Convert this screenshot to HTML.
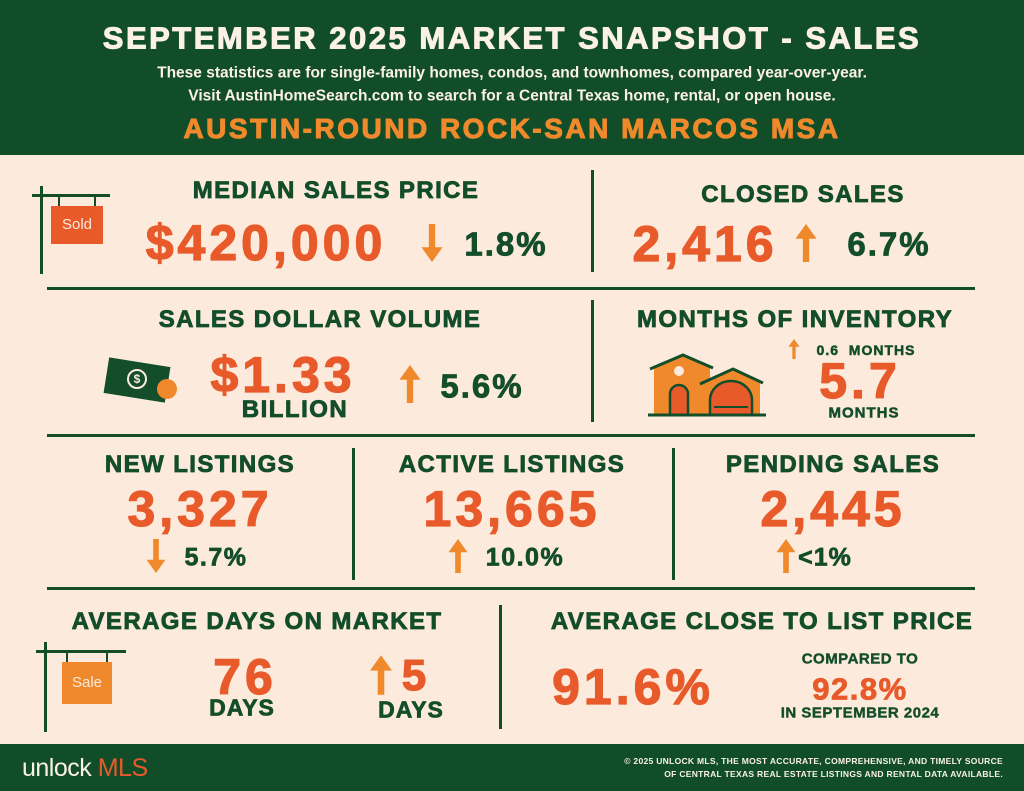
<!DOCTYPE html>
<html><head><meta charset="utf-8"><style>
*{margin:0;padding:0;box-sizing:border-box}
body{width:1024px;height:791px;background:#fcebdd;position:relative;overflow:hidden;font-family:"Liberation Sans",Arial,sans-serif;font-weight:bold}
.c{position:absolute;transform:translate(-50%,-50%);white-space:nowrap;line-height:1}
.g{color:#134d2a}.o{color:#e95a2b}.a{color:#f0892c}.w{color:#fbf1e6}
.h{font-size:24px;letter-spacing:1.4px;-webkit-text-stroke:0.8px currentColor}
.n{font-size:50px;letter-spacing:4px;-webkit-text-stroke:1.2px currentColor}
.p{font-size:28px;letter-spacing:2px;-webkit-text-stroke:0.8px currentColor}
.hl{position:absolute;height:3px;background:#134d2a}
.vl{position:absolute;width:3px;background:#134d2a}
.ar{position:absolute;transform:translate(-50%,-50%)}
</style></head><body>
<svg width="0" height="0" style="position:absolute"><defs>
<symbol id="up" viewBox="0 0 20 36"><polygon points="10,0 20,14 13,14 13,36 7,36 7,14 0,14" fill="#f0892c"/></symbol>
<symbol id="dn" viewBox="0 0 20 36"><polygon points="10,36 20,22 13,22 13,0 7,0 7,22 0,22" fill="#f0892c"/></symbol>
</defs></svg>
<div style="position:absolute;left:0;top:0;width:1024px;height:155px;background:#124d29"></div>
<div class="c w" style="left:512px;top:38px;font-size:31px;letter-spacing:2.5px;-webkit-text-stroke:1px #fbf1e6">SEPTEMBER 2025 MARKET SNAPSHOT - SALES</div>
<div class="c w" style="left:512px;top:73px;font-size:15.5px">These statistics are for single-family homes, condos, and townhomes, compared year-over-year.</div>
<div class="c w" style="left:512px;top:96px;font-size:15.5px">Visit AustinHomeSearch.com to search for a Central Texas home, rental, or open house.</div>
<div class="c a" style="left:512px;top:129px;font-size:28px;letter-spacing:2.5px;-webkit-text-stroke:1px #f0892c">AUSTIN-ROUND ROCK-SAN MARCOS MSA</div>

<!-- row 1 -->
<div class="vl" style="left:40px;top:186px;height:88px"></div>
<div class="hl" style="left:32px;top:194px;width:78px"></div>
<div style="position:absolute;left:58px;top:195px;width:2px;height:12px;background:#134d2a"></div>
<div style="position:absolute;left:94px;top:195px;width:2px;height:12px;background:#134d2a"></div>
<div style="position:absolute;left:51px;top:206px;width:52px;height:38px;background:#e95a2b;color:#fbeadc;font-size:15px;font-weight:normal;text-align:center;line-height:38px">Sold</div>
<div class="c g h" style="left:336px;top:191px">MEDIAN SALES PRICE</div>
<div class="c o n" style="left:266px;top:243px">$420,000</div>
<svg class="ar" style="left:432px;top:243px" width="22" height="38"><use href="#dn"/></svg>
<div class="c g p" style="left:506px;top:244px;font-size:33px">1.8%</div>
<div class="vl" style="left:591px;top:170px;height:102px"></div>
<div class="c g h" style="left:803px;top:195px">CLOSED SALES</div>
<div class="c o n" style="left:705px;top:244px">2,416</div>
<svg class="ar" style="left:806px;top:243px" width="22" height="38"><use href="#up"/></svg>
<div class="c g p" style="left:889px;top:244px;font-size:33px">6.7%</div>
<div class="hl" style="left:47px;top:287px;width:928px"></div>

<!-- row 2 -->
<div class="c g h" style="left:320px;top:320px">SALES DOLLAR VOLUME</div>
<div style="position:absolute;left:106px;top:362px;width:62px;height:36px;background:#134d2a;transform:rotate(9deg)"></div>
<div style="position:absolute;left:127px;top:369px;width:20px;height:20px;border:2px solid #fcebdd;border-radius:50%;color:#fcebdd;font-size:12px;text-align:center;line-height:16px">$</div>
<div style="position:absolute;left:157px;top:379px;width:20px;height:20px;background:#f0892c;border-radius:50%"></div>
<div class="c o n" style="left:283px;top:375px">$1.33</div>
<div class="c g" style="left:295px;top:410px;font-size:24px;letter-spacing:1.5px;-webkit-text-stroke:0.8px #134d2a">BILLION</div>
<svg class="ar" style="left:410px;top:384px" width="22" height="38"><use href="#up"/></svg>
<div class="c g p" style="left:482px;top:386px;font-size:33px">5.6%</div>
<div class="vl" style="left:591px;top:300px;height:122px"></div>
<div class="c g h" style="left:795px;top:320px">MONTHS OF INVENTORY</div>
<svg style="position:absolute;left:648px;top:352px" width="118" height="66" viewBox="0 0 118 66">
<polygon points="4,15 35,2 62,14 62,62 6,62 6,15" fill="#f0892c"/>
<polygon points="55,30 85,16 112,30 112,62 55,62" fill="#f0892c"/>
<polyline points="2,17 35,3 65,16" fill="none" stroke="#134d2a" stroke-width="3"/>
<polyline points="52,32 85,17 115,31" fill="none" stroke="#134d2a" stroke-width="3"/>
<circle cx="31" cy="19" r="5" fill="#fcebdd"/>
<path d="M22,62V42a9,9 0 0 1 18,0V62" fill="#e95a2b" stroke="#134d2a" stroke-width="2.5"/>
<path d="M62,62V48a21,19 0 0 1 42,0V62" fill="#e95a2b" stroke="#134d2a" stroke-width="2.5"/>
<line x1="66" y1="55" x2="100" y2="55" stroke="#134d2a" stroke-width="2"/>
<line x1="0" y1="63" x2="118" y2="63" stroke="#134d2a" stroke-width="3"/>
</svg>
<svg class="ar" style="left:794px;top:349px" width="12" height="20"><use href="#up"/></svg>
<div class="c g" style="left:866px;top:350px;font-size:14px;letter-spacing:1px;-webkit-text-stroke:0.5px #134d2a">0.6&nbsp; MONTHS</div>
<div class="c o n" style="left:860px;top:381px">5.7</div>
<div class="c g" style="left:864px;top:413px;font-size:15px;letter-spacing:1px;-webkit-text-stroke:0.5px #134d2a">MONTHS</div>
<div class="hl" style="left:47px;top:434px;width:928px"></div>

<!-- row 3 -->
<div class="vl" style="left:352px;top:448px;height:132px"></div>
<div class="vl" style="left:672px;top:448px;height:132px"></div>
<div class="c g h" style="left:200px;top:465px">NEW LISTINGS</div>
<div class="c o n" style="left:200px;top:509px">3,327</div>
<svg class="ar" style="left:156px;top:556px" width="20" height="34"><use href="#dn"/></svg>
<div class="c g" style="left:216px;top:558px;font-size:25px;letter-spacing:1.5px;-webkit-text-stroke:0.7px #134d2a">5.7%</div>
<div class="c g h" style="left:512px;top:465px">ACTIVE LISTINGS</div>
<div class="c o n" style="left:512px;top:509px">13,665</div>
<svg class="ar" style="left:458px;top:556px" width="20" height="34"><use href="#up"/></svg>
<div class="c g" style="left:525px;top:558px;font-size:25px;letter-spacing:1.5px;-webkit-text-stroke:0.7px #134d2a">10.0%</div>
<div class="c g h" style="left:833px;top:465px">PENDING SALES</div>
<div class="c o n" style="left:833px;top:509px">2,445</div>
<svg class="ar" style="left:786px;top:556px" width="20" height="34"><use href="#up"/></svg>
<div class="c g" style="left:825px;top:558px;font-size:25px;letter-spacing:1px;-webkit-text-stroke:0.7px #134d2a">&lt;1%</div>
<div class="hl" style="left:47px;top:587px;width:928px"></div>

<!-- row 4 -->
<div class="c g h" style="left:257px;top:622px">AVERAGE DAYS ON MARKET</div>
<div class="vl" style="left:44px;top:642px;height:90px"></div>
<div class="hl" style="left:36px;top:650px;width:90px"></div>
<div style="position:absolute;left:66px;top:651px;width:2px;height:12px;background:#134d2a"></div>
<div style="position:absolute;left:106px;top:651px;width:2px;height:12px;background:#134d2a"></div>
<div style="position:absolute;left:62px;top:662px;width:50px;height:42px;background:#f0892c;color:#fbeadc;font-size:15px;font-weight:normal;text-align:center;line-height:42px">Sale</div>
<div class="c o n" style="left:245px;top:677px">76</div>
<div class="c g" style="left:242px;top:708px;font-size:23px;letter-spacing:1px;-webkit-text-stroke:0.7px #134d2a">DAYS</div>
<svg class="ar" style="left:381px;top:675px" width="22" height="40"><use href="#up"/></svg>
<div class="c o" style="left:414px;top:676px;font-size:44px;-webkit-text-stroke:1.2px #e95a2b">5</div>
<div class="c g" style="left:411px;top:710px;font-size:23px;letter-spacing:1px;-webkit-text-stroke:0.7px #134d2a">DAYS</div>
<div class="vl" style="left:499px;top:605px;height:124px"></div>
<div class="c g h" style="left:762px;top:622px">AVERAGE CLOSE TO LIST PRICE</div>
<div class="c o n" style="left:633px;top:687px">91.6%</div>
<div class="c g" style="left:860px;top:659px;font-size:15px;letter-spacing:.5px;-webkit-text-stroke:0.4px #134d2a">COMPARED TO</div>
<div class="c o" style="left:860px;top:689px;font-size:31px;letter-spacing:1.5px;-webkit-text-stroke:0.8px #e95a2b">92.8%</div>
<div class="c g" style="left:860px;top:713px;font-size:15px;letter-spacing:.5px;-webkit-text-stroke:0.4px #134d2a">IN SEPTEMBER 2024</div>

<!-- footer -->
<div style="position:absolute;left:0;top:744px;width:1024px;height:47px;background:#124d29"></div>
<div style="position:absolute;left:22px;top:754px;font-size:25px;font-weight:normal;color:#fbf1e6;letter-spacing:-0.5px">unlock <span style="color:#e95a2b">MLS</span></div>
<div style="position:absolute;right:21px;top:755px;text-align:right;font-size:8.5px;line-height:13px;color:#fbf1e6;letter-spacing:.3px">© 2025 UNLOCK MLS, THE MOST ACCURATE, COMPREHENSIVE, AND TIMELY SOURCE<br>OF CENTRAL TEXAS REAL ESTATE LISTINGS AND RENTAL DATA AVAILABLE.</div>
</body></html>
